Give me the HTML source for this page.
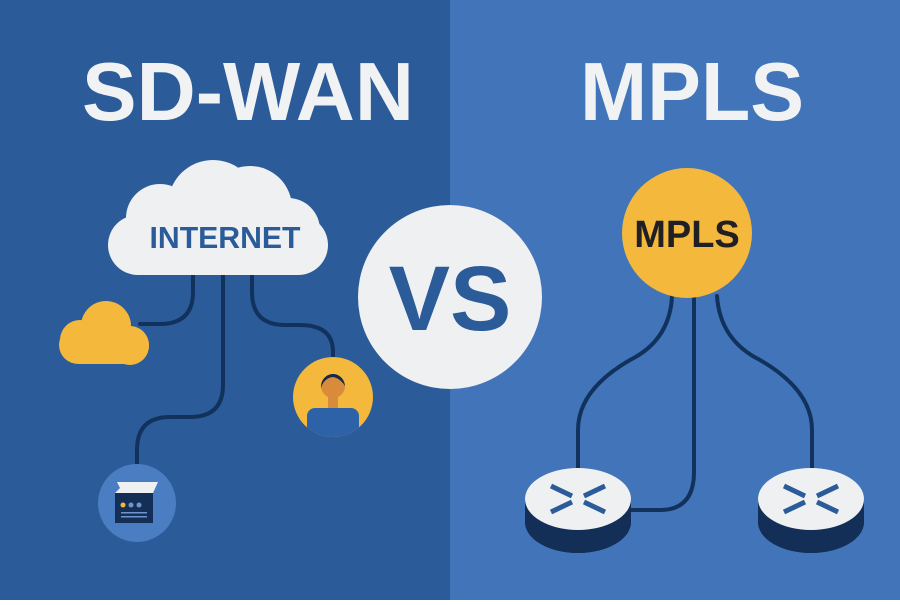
<!DOCTYPE html>
<html><head><meta charset="utf-8"><style>html,body{margin:0;padding:0}body{width:900px;height:600px;overflow:hidden}</style></head>
<body>
<svg width="900" height="600" viewBox="0 0 900 600" xmlns="http://www.w3.org/2000/svg">
<rect x="0" y="0" width="450" height="600" fill="#2b5b98"/>
<rect x="450" y="0" width="450" height="600" fill="#4174b8"/>
<g font-family="Liberation Sans, sans-serif" font-weight="bold" fill="#f1f2f3" font-size="83">
<text x="248" y="120" text-anchor="middle" textLength="332" lengthAdjust="spacingAndGlyphs">SD-WAN</text>
<text x="692" y="120" text-anchor="middle" textLength="224" lengthAdjust="spacingAndGlyphs">MPLS</text>
</g>
<!-- left connectors -->
<g fill="none" stroke="#12325e" stroke-width="4" stroke-linecap="round">
<path d="M193 272 V292 Q193 324 160 324 H140"/>
<path d="M223 272 V385 Q223 417 190 417 H170 Q137 417 137 450 V466"/>
<path d="M252 272 V292 Q252 325 285 325 H300 Q333 325 333 352 V358"/>
</g>
<!-- internet cloud -->
<g fill="#eef0f2">
<rect x="108" y="215" width="220" height="60" rx="30"/>
<circle cx="160" cy="218" r="34"/>
<circle cx="213" cy="205" r="45"/>
<circle cx="250" cy="208" r="42"/>
<circle cx="288" cy="230" r="32"/>
</g>
<text x="225" y="248" text-anchor="middle" font-family="Liberation Sans, sans-serif" font-weight="bold" font-size="31" fill="#2b5b98" textLength="151" lengthAdjust="spacingAndGlyphs">INTERNET</text>
<!-- yellow cloud -->
<g fill="#f3b83c">
<rect x="59" y="326" width="90" height="38" rx="19"/>
<circle cx="80" cy="340" r="20"/>
<circle cx="106" cy="326" r="25"/>
<circle cx="130" cy="346" r="19"/>
</g>
<!-- person circle -->
<circle cx="333" cy="397" r="40" fill="#f3b83c"/>
<clipPath id="pc"><circle cx="333" cy="397" r="40"/></clipPath>
<g clip-path="url(#pc)">
<rect x="307" y="408" width="52" height="40" rx="8" fill="#2e62a8"/>
<rect x="328" y="393" width="10" height="15" fill="#d98b3c"/>
<circle cx="333" cy="386" r="12" fill="#d98b3c"/>
<path d="M321 388 A12 13 0 0 1 345 386 Q340 378 333 377 Q324 378 321 388Z" fill="#142a48"/>
</g>
<!-- device circle -->
<circle cx="137" cy="503" r="39" fill="#4a7dc2"/>
<rect x="115" y="493" width="38" height="30" fill="#142e55"/>
<path d="M117 482 L158 482 L153 493 L115 493 L120 488Z" fill="#eef0f2"/>
<circle cx="123" cy="505" r="2.5" fill="#f3b83c"/><circle cx="131" cy="505" r="2.5" fill="#6f95cc"/><circle cx="139" cy="505" r="2.5" fill="#6f95cc"/>
<rect x="121" y="512" width="26" height="1.5" fill="#6f95cc"/><rect x="121" y="516" width="26" height="1.5" fill="#6f95cc"/>
<!-- VS -->
<circle cx="450" cy="297" r="92" fill="#eff0f1"/>
<text x="450" y="330" text-anchor="middle" font-family="Liberation Sans, sans-serif" font-weight="bold" font-size="92" fill="#2b5b98">VS</text>
<!-- right connectors -->
<g fill="none" stroke="#12325e" stroke-width="4" stroke-linecap="round">
<path d="M672 296 Q670 340 630 360 Q578 390 578 430 V472"/>
<path d="M694 296 V472 Q694 510 660 510 H628"/>
<path d="M717 296 Q720 340 760 360 Q812 390 812 430 V472"/>
</g>
<!-- MPLS circle -->
<circle cx="687" cy="233" r="65" fill="#f3b83c"/>
<text x="687" y="247" text-anchor="middle" font-family="Liberation Sans, sans-serif" font-weight="bold" font-size="38" fill="#1f1f24">MPLS</text>
<!-- routers -->
<g>
<path d="M525 499 V522 A53 31 0 0 0 631 522 V499Z" fill="#132f58"/>
<ellipse cx="578" cy="522" rx="53" ry="31" fill="#132f58"/>
<ellipse cx="578" cy="499" rx="53" ry="31" fill="#eef0f2"/>
<g stroke="#2b5b98" stroke-width="5">
<path d="M551 486 L572 496 M605 486 L584 496 M551 512 L572 502 M605 512 L584 502"/>
</g>
<path d="M758 499 V522 A53 31 0 0 0 864 522 V499Z" fill="#132f58"/>
<ellipse cx="811" cy="522" rx="53" ry="31" fill="#132f58"/>
<ellipse cx="811" cy="499" rx="53" ry="31" fill="#eef0f2"/>
<g stroke="#2b5b98" stroke-width="5">
<path d="M784 486 L805 496 M838 486 L817 496 M784 512 L805 502 M838 512 L817 502"/>
</g>
</g>
</svg>
</body></html>
